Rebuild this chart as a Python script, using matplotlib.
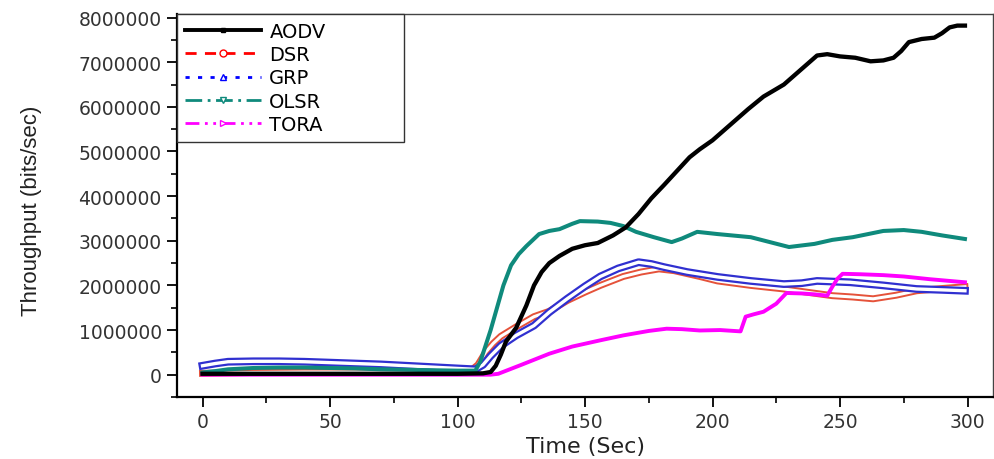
import matplotlib
matplotlib.use("Agg")
import matplotlib.pyplot as plt
import matplotlib.patheffects as pe
from matplotlib.lines import Line2D
from matplotlib.ticker import MultipleLocator
import numpy as np

# =====================================================
# DATA (throughput in bits/sec)
# =====================================================
aodv_t = [0, 25, 50, 75, 100, 110, 113, 115, 117, 119, 123, 127, 130, 133, 136,
          140, 145, 150, 155, 161, 166, 171, 176, 181, 186, 191, 195, 200, 208,
          214, 220, 228, 235, 241, 245, 250, 256, 262, 267, 271, 274, 277, 282,
          287, 290, 293, 296, 299]
aodv_v = [0.02, 0.02, 0.02, 0.02, 0.02, 0.03, 0.06, 0.2, 0.45, 0.74, 1.05, 1.55,
          2.0, 2.3, 2.5, 2.66, 2.82, 2.9, 2.95, 3.12, 3.3, 3.6, 3.95, 4.25, 4.56,
          4.87, 5.05, 5.25, 5.65, 5.95, 6.23, 6.5, 6.85, 7.15, 7.18, 7.13, 7.1,
          7.02, 7.04, 7.1, 7.25, 7.45, 7.52, 7.55, 7.65, 7.78, 7.82, 7.82]

dsr_t = [0, 20, 40, 60, 80, 100, 105, 108, 111, 114, 117, 123, 130, 136, 143,
         150, 156, 165, 172, 179, 185, 195, 202, 215, 228, 238, 247, 255, 263,
         272, 280, 290, 299]
dsr_v = [0.03, 0.05, 0.06, 0.06, 0.05, 0.05, 0.08, 0.22, 0.5, 0.7, 0.86, 1.07,
         1.3, 1.42, 1.66, 1.85, 2.0, 2.2, 2.3, 2.37, 2.33, 2.2, 2.1, 2.0, 1.92,
         1.84, 1.77, 1.74, 1.7, 1.78, 1.88, 1.93, 1.97]

grp_t = [0, 5, 10, 20, 30, 40, 50, 60, 70, 80, 90, 100, 107, 110, 113, 117, 123,
         130, 136, 143, 150, 156, 163, 171, 176, 181, 190, 202, 215, 228, 235,
         241, 254, 267, 280, 290, 299]
grp_v = [0.2, 0.25, 0.29, 0.3, 0.3, 0.29, 0.27, 0.25, 0.23, 0.2, 0.17, 0.14,
         0.12, 0.22, 0.42, 0.65, 0.88, 1.1, 1.4, 1.7, 1.98, 2.2, 2.38, 2.52,
         2.48, 2.41, 2.3, 2.19, 2.1, 2.03, 2.05, 2.1, 2.07, 2.0, 1.92, 1.9, 1.88]

olsr_t = [0, 5, 10, 20, 30, 40, 50, 60, 70, 80, 90, 100, 107, 109, 111, 113,
          115, 118, 121, 124, 127, 132, 136, 140, 145, 148, 155, 160, 165, 170,
          177, 184, 188, 194, 202, 215, 230, 240, 247, 255, 267, 275, 282, 290,
          299]
olsr_v = [0.05, 0.08, 0.12, 0.15, 0.16, 0.16, 0.15, 0.14, 0.12, 0.11, 0.1, 0.09,
          0.09, 0.3, 0.65, 1.0, 1.4, 2.0, 2.45, 2.7, 2.88, 3.15, 3.22, 3.26,
          3.38, 3.44, 3.43, 3.4, 3.33, 3.2, 3.08, 2.97, 3.05, 3.2, 3.15, 3.08,
          2.86, 2.93, 3.02, 3.08, 3.22, 3.24, 3.2, 3.12, 3.04]

tora_t = [0, 50, 100, 113, 116, 125, 136, 145, 156, 165, 175, 182, 188, 195,
          203, 211, 213, 216, 220, 225, 229, 235, 240, 245, 247, 249, 251, 258,
          267, 275, 285, 299]
tora_v = [0.0, 0.0, 0.0, 0.0, 0.02, 0.22, 0.47, 0.63, 0.77, 0.88, 0.98, 1.03,
          1.02, 0.99, 1.0, 0.97, 1.3, 1.35, 1.41, 1.59, 1.83, 1.82, 1.8, 1.77,
          1.97, 2.15, 2.26, 2.25, 2.23, 2.2, 2.14, 2.07]

labels = ["AODV", "DSR", "GRP", "OLSR", "TORA"]
x_ticks = [0, 50, 100, 150, 200, 250, 300]
y_ticks = [0, 1000000, 2000000, 3000000, 4000000, 5000000, 6000000, 7000000, 8000000]

M = 1e6
TEAL = "#0f8a7c"

# =====================================================
# FIGURE
# =====================================================
fig = plt.figure(figsize=(9.95, 4.6), dpi=100)
ax = fig.add_axes([177 / 995, 62 / 460, 816 / 995, 383 / 460])

# DSR / GRP look like chains of hollow markers -> hollow "tube" lines
ax.plot(dsr_t, np.array(dsr_v) * M, color="white", lw=2.2, zorder=2,
        path_effects=[pe.Stroke(linewidth=5.0, foreground="#e5523a"), pe.Normal()])
ax.plot(grp_t, np.array(grp_v) * M, color="white", lw=2.4, zorder=2.1,
        path_effects=[pe.Stroke(linewidth=5.6, foreground="#3030d0"), pe.Normal()])
ax.plot(olsr_t, np.array(olsr_v) * M, color=TEAL, lw=2.9, zorder=3)
ax.plot(tora_t, np.array(tora_v) * M, color="#ff00ff", lw=2.8, zorder=4)
ax.plot(aodv_t, np.array(aodv_v) * M, color="black", lw=3.1, zorder=5)

ax.set_xlim(-10, 310)
ax.set_ylim(-500000, 8080000)
ax.set_xticks(x_ticks)
ax.set_yticks(y_ticks)
ax.xaxis.set_minor_locator(MultipleLocator(25))
ax.yaxis.set_minor_locator(MultipleLocator(500000))
ax.set_yticklabels([str(v) for v in y_ticks])

ax.tick_params(which="major", direction="out", length=7, width=1.3,
               labelsize=13.5, labelcolor="#333333", pad=4)
ax.tick_params(which="minor", direction="out", length=4, width=1.2)
ax.tick_params(top=False, right=False, which="both")
for lab in ax.get_xticklabels() + ax.get_yticklabels():
    lab.set_family("DejaVu Sans")

for s in ["left", "bottom"]:
    ax.spines[s].set_linewidth(1.6)
    ax.spines[s].set_color("black")
for s in ["top", "right"]:
    ax.spines[s].set_linewidth(1.0)
    ax.spines[s].set_color("#444444")

ax.set_xlabel("Time (Sec)", fontsize=16, family="DejaVu Sans", color="#222222")
ax.xaxis.set_label_coords(0.5, -0.103)
ax.set_ylabel("Throughput (bits/sec)", fontsize=16, family="Liberation Sans",
              color="#222222")
ax.yaxis.set_label_coords(-0.165, 0.49)

# legend proxies, styled like the Origin legend
handles = [
    Line2D([], [], color="black", lw=2.8, marker="s", ms=3),
    Line2D([], [], color="red", lw=2, ls=(0, (4, 3)), marker="o", ms=5,
           mfc="white", mec="red"),
    Line2D([], [], color="blue", lw=2, ls=(0, (1.5, 3)), marker="^", ms=5,
           mfc="white", mec="blue"),
    Line2D([], [], color=TEAL, lw=2, ls=(0, (6, 2, 1, 2)), marker="v", ms=4,
           mfc="white", mec=TEAL),
    Line2D([], [], color="#ff00ff", lw=2, ls=(0, (5, 2, 1, 2, 1, 2)), marker=">",
           ms=4, mfc="white", mec="#ff00ff"),
]
leg = ax.legend(handles, labels, loc="upper left", bbox_to_anchor=(0, 0, 0.278, 1),
                mode="expand", borderaxespad=0, fancybox=False, framealpha=1,
                edgecolor="#333333", handlelength=3.9, handletextpad=0.45,
                labelspacing=0.22, borderpad=0.4, numpoints=1,
                prop={"family": "DejaVu Sans", "size": 14})
leg.get_frame().set_linewidth(1.0)
leg.set_zorder(10)

fig.savefig("out.png", dpi=100)
